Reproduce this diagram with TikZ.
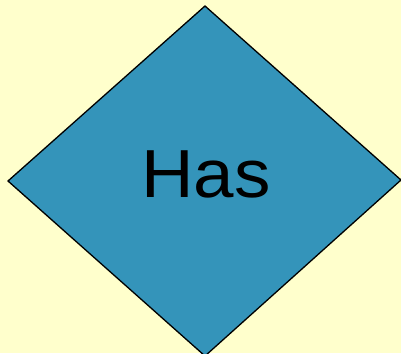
\documentclass[tikz,border=0pt]{standalone}
\usepackage{fontspec}
\setmainfont{Liberation Sans}
\definecolor{bgyellow}{HTML}{FFFFCC}
\definecolor{teal}{HTML}{3494BA}
\begin{document}
\begin{tikzpicture}[x=1pt,y=-1pt]
\useasboundingbox[fill=bgyellow] (0,0) rectangle (401,353);
\coordinate (t) at (205,6);
\coordinate (l) at (8,181);
\coordinate (r) at (401,180);
\coordinate (b) at (205,356);
\begin{scope}
\clip (0,0) rectangle (401,353);
\draw[fill=teal, line width=1.3pt, line join=miter] (t) -- (r) -- (b) -- (l) -- cycle;
\end{scope}
\node[inner sep=0pt, anchor=base, xscale=1.07, font=\fontsize{68}{80}\selectfont] (lbl) at (206,197) {Has};
\end{tikzpicture}
\end{document}
